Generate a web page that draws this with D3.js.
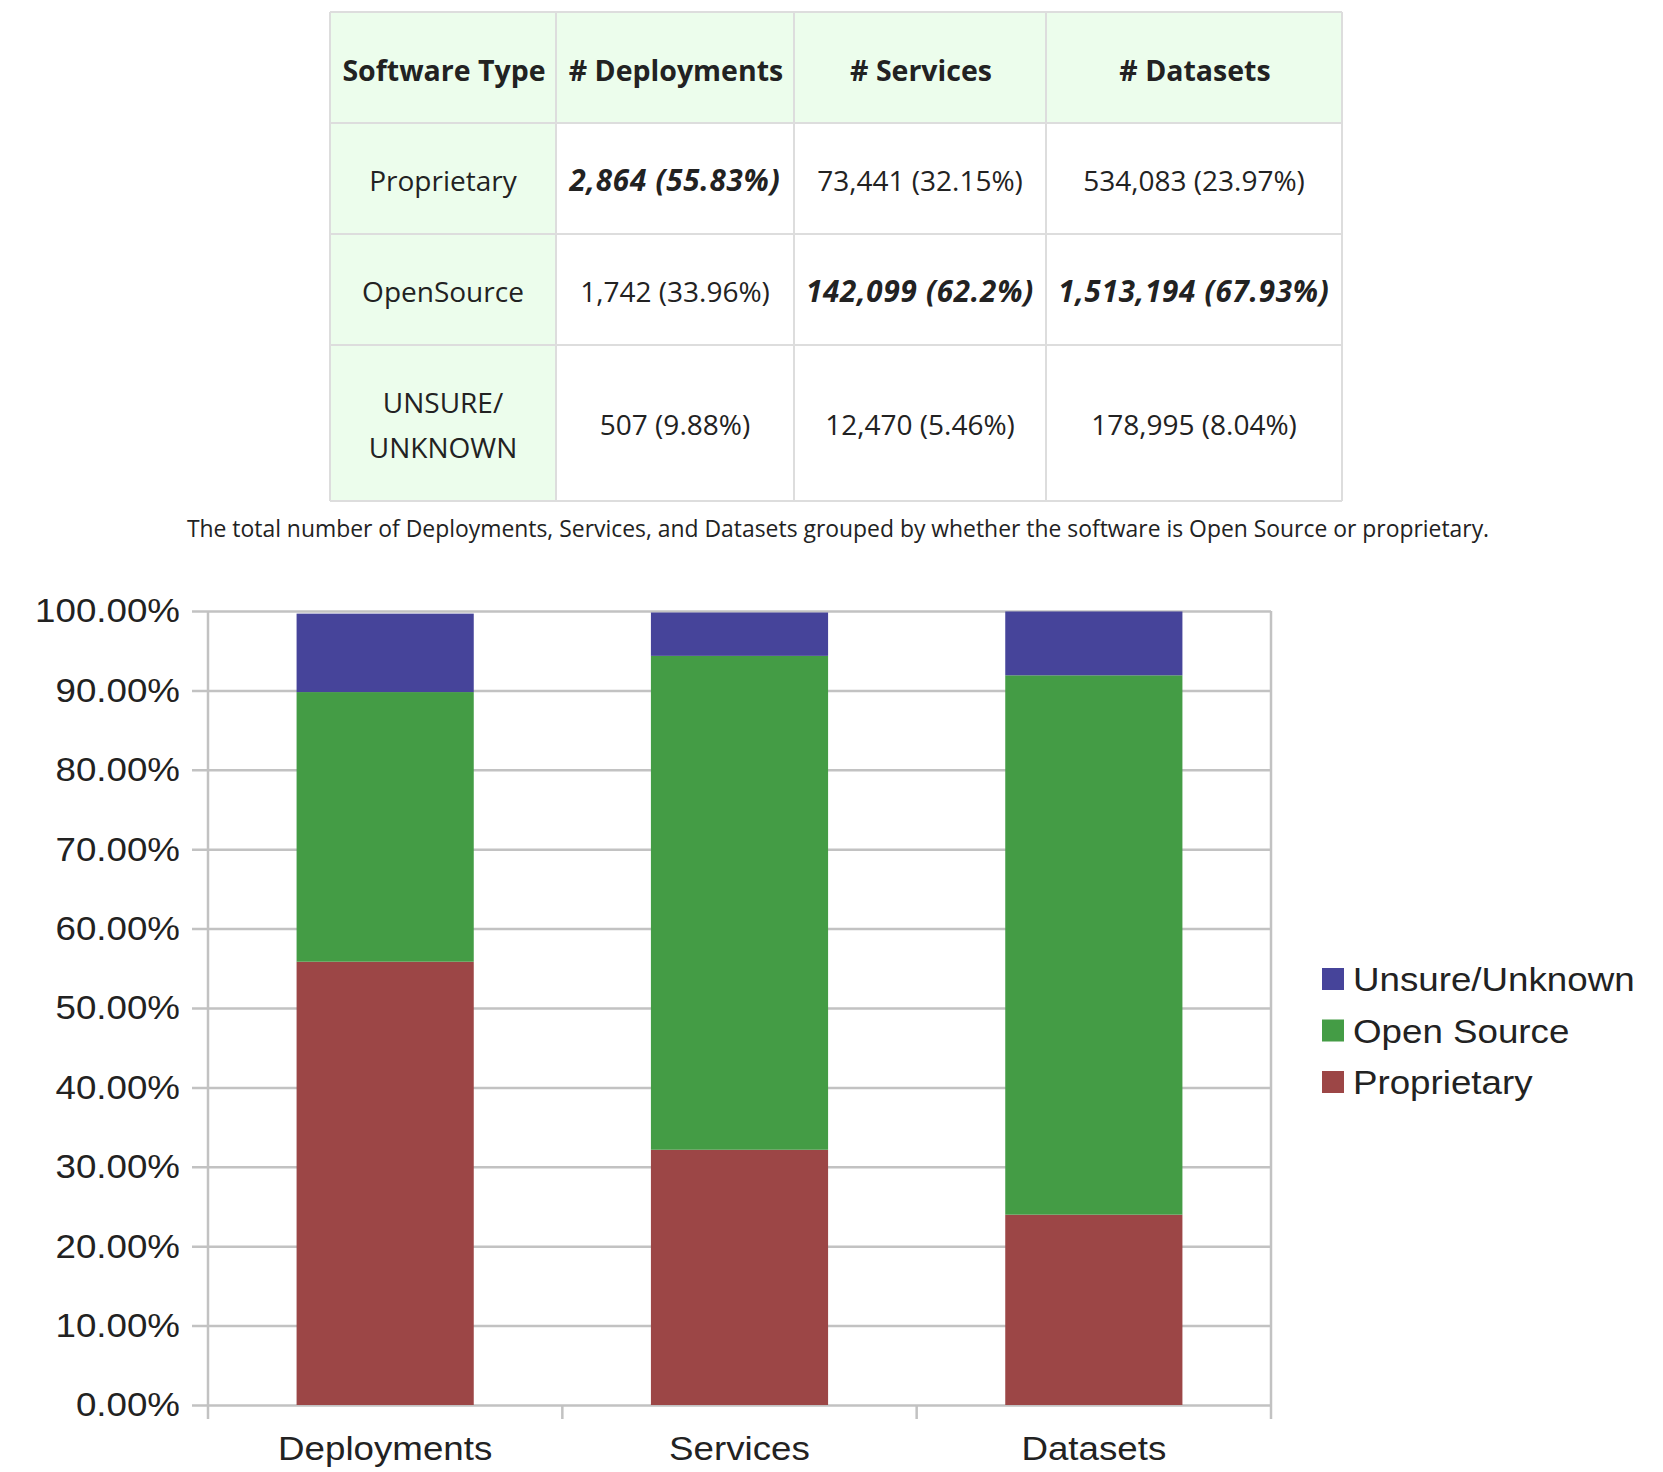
<!DOCTYPE html>
<html lang="en">
<head>
    <meta charset="UTF-8">
    <title>Software type: deployments, services and datasets</title>
    <script src="https://cdnjs.cloudflare.com/ajax/libs/d3/7.8.5/d3.min.js"></script>
    <style>
        body {
            margin: 0;
            padding: 0;
            background-color: #fff;
        }
        .cell-text {
            font-family: "Open Sans", "Noto Sans", sans-serif;
            fill: #222;
        }
        .chart-text {
            font-family: "Liberation Sans", Arial, sans-serif;
            fill: #222;
        }
    </style>
</head>
<body>
  <div id="page"></div>

  <script>
    // Données du tableau / du graphique
    const categories = ["Deployments", "Services", "Datasets"];
    const typeNames = ["Proprietary", "OpenSource", "UNSURE/\nUNKNOWN"];
    const legendNames = ["Proprietary", "Open Source", "Unsure/Unknown"];

    const proprietaryCounts = [2864, 73441, 534083];
    const proprietaryPct = [55.83, 32.15, 23.97];
    const openSourceCounts = [1742, 142099, 1513194];
    const openSourcePct = [33.96, 62.2, 67.93];
    const unsureCounts = [507, 12470, 178995];
    const unsurePct = [9.88, 5.46, 8.04];

    const yTicks = [0, 10, 20, 30, 40, 50, 60, 70, 80, 90, 100];

    const colors = ["#9c4646", "#449c45", "#46449a"];

    // Configuration
    const width = 1663;
    const height = 1472;
    const stretch = 1.08;   // le texte du graphique d'origine est un peu étiré en largeur

    const svg = d3.select("#page")
        .append("svg")
        .attr("width", width)
        .attr("height", height)
        .attr("viewBox", [0, 0, width, height]);

    // ---------- Tableau ----------
    const colEdges = [330, 556, 794, 1046, 1342];
    const rowEdges = [12, 123, 234, 345, 501];
    const headers = ["Software Type", "# Deployments", "# Services", "# Datasets"];

    const counts = [proprietaryCounts, openSourceCounts, unsureCounts];
    const pcts = [proprietaryPct, openSourcePct, unsurePct];

    const table = svg.append("g");

    // fonds verts : en-tête et première colonne
    table.append("rect")
        .attr("x", colEdges[0]).attr("y", rowEdges[0])
        .attr("width", colEdges[4] - colEdges[0]).attr("height", rowEdges[1] - rowEdges[0])
        .attr("fill", "#ecfdec");
    table.append("rect")
        .attr("x", colEdges[0]).attr("y", rowEdges[0])
        .attr("width", colEdges[1] - colEdges[0]).attr("height", rowEdges[4] - rowEdges[0])
        .attr("fill", "#ecfdec");

    // bordures
    table.selectAll(".hline")
        .data(rowEdges)
        .enter()
        .append("line")
        .attr("x1", colEdges[0]).attr("x2", colEdges[4])
        .attr("y1", d => d).attr("y2", d => d)
        .attr("stroke", "#dddddd").attr("stroke-width", 2);
    table.selectAll(".vline")
        .data(colEdges)
        .enter()
        .append("line")
        .attr("x1", d => d).attr("x2", d => d)
        .attr("y1", rowEdges[0]).attr("y2", rowEdges[4])
        .attr("stroke", "#dddddd").attr("stroke-width", 2);

    const colMid = i => (colEdges[i] + colEdges[i + 1]) / 2;
    const rowMid = i => (rowEdges[i] + rowEdges[i + 1]) / 2;

    // en-têtes
    table.selectAll(".head")
        .data(headers)
        .enter()
        .append("text")
        .attr("class", "cell-text")
        .attr("x", (d, i) => colMid(i) + 1)
        .attr("y", rowMid(0) + 3)
        .attr("dy", "0.36em")
        .attr("text-anchor", "middle")
        .attr("font-size", 28.5)
        .attr("font-weight", "bold")
        .text(d => d);

    // noms des types (première colonne)
    typeNames.forEach((name, r) => {
        const lines = name.split("\n");
        lines.forEach((line, k) => {
            table.append("text")
                .attr("class", "cell-text")
                .attr("x", colMid(0))
                .attr("y", rowMid(r + 1) + 2 + (k - (lines.length - 1) / 2) * 45)
                .attr("dy", "0.36em")
                .attr("text-anchor", "middle")
                .attr("font-size", 28)
                .text(line);
        });
    });

    // valeurs ; la plus grande part de chaque colonne en gras italique
    const fmt = d3.format(",");
    categories.forEach((cat, c) => {
        const maxRow = d3.maxIndex(pcts, p => p[c]);
        pcts.forEach((p, r) => {
            const strong = r === maxRow;
            table.append("text")
                .attr("class", "cell-text")
                .attr("x", colMid(c + 1))
                .attr("y", rowMid(r + 1) + 2)
                .attr("dy", "0.36em")
                .attr("text-anchor", "middle")
                .attr("font-size", strong ? 29.5 : 28)
                .attr("letter-spacing", strong ? 0.8 : 0)
                .attr("font-weight", strong ? "bold" : "normal")
                .attr("font-style", strong ? "italic" : "normal")
                .text(`${fmt(counts[r][c])} (${p[c]}%)`);
        });
    });

    // légende du tableau
    svg.append("text")
        .attr("class", "cell-text")
        .attr("x", 838)
        .attr("y", 537)
        .attr("text-anchor", "middle")
        .attr("font-size", 22.9)
        .text("The total number of Deployments, Services, and Datasets grouped by whether the software is Open Source or proprietary.");

    // ---------- Graphique empilé ----------
    const plot = { left: 208, right: 1271, top: 611, bottom: 1405 };

    const x = d3.scaleBand()
        .domain(categories)
        .range([plot.left, plot.right])
        .paddingInner(0.5)
        .paddingOuter(0.25);

    const y = d3.scaleLinear()
        .domain([0, 100])
        .range([plot.bottom, plot.top]);

    const rows = categories.map((cat, i) => ({
        category: cat,
        proprietary: proprietaryPct[i],
        openSource: openSourcePct[i],
        unsure: unsurePct[i]
    }));
    const keys = ["proprietary", "openSource", "unsure"];
    const series = d3.stack().keys(keys)(rows);

    const chart = svg.append("g");

    // grille + étiquettes de l'axe Y
    const yPad = 12;
    const yAxis = d3.axisLeft(y)
        .tickValues(yTicks)
        .tickSize(-(plot.right - plot.left + 16))
        .tickPadding(yPad)
        .tickFormat(d => d.toFixed(2) + "%");

    const yG = chart.append("g")
        .attr("transform", `translate(${plot.left - 16},0)`)
        .call(yAxis);
    yG.select(".domain").remove();
    yG.selectAll(".tick line")
        .attr("stroke", "#c2c2c2")
        .attr("stroke-width", 2.5);
    yG.selectAll(".tick text")
        .attr("class", "chart-text")
        .attr("font-size", 34)
        .attr("fill", "#222")
        .attr("x", -yPad / stretch)
        .attr("transform", `scale(${stretch},1)`);

    // axe X : graduations aux limites des catégories
    const xEdges = categories.map(c => x(c) - x.step() * x.paddingInner() / 2);
    xEdges.push(plot.right);
    chart.selectAll(".xtick")
        .data(xEdges)
        .enter()
        .append("line")
        .attr("x1", d => d).attr("x2", d => d)
        .attr("y1", (d, i) => (i === 0 || i === xEdges.length - 1) ? plot.top : plot.bottom)
        .attr("y2", plot.bottom + 14)
        .attr("stroke", "#c2c2c2")
        .attr("stroke-width", 2.5);

    // barres
    chart.selectAll(".serie")
        .data(series)
        .enter()
        .append("g")
        .attr("fill", (d, i) => colors[i])
        .selectAll("rect")
        .data(d => d)
        .enter()
        .append("rect")
        .attr("x", d => x(d.data.category))
        .attr("y", d => y(d[1]))
        .attr("width", x.bandwidth())
        .attr("height", d => y(d[0]) - y(d[1]));

    // étiquettes des catégories
    chart.selectAll(".xlabel")
        .data(categories)
        .enter()
        .append("text")
        .attr("class", "chart-text")
        .attr("transform", d => `translate(${x(d) + x.bandwidth() / 2},1460) scale(${stretch},1)`)
        .attr("text-anchor", "middle")
        .attr("font-size", 34)
        .text(d => d);

    // légende (ordre inversé : Unsure en haut)
    const legendOrder = [2, 1, 0];
    const legend = chart.selectAll(".legend")
        .data(legendOrder)
        .enter()
        .append("g")
        .attr("transform", (d, i) => `translate(1322,${979 + i * 51.5})`);
    legend.append("rect")
        .attr("x", 0).attr("y", -11)
        .attr("width", 22).attr("height", 22)
        .attr("fill", d => colors[d]);
    legend.append("text")
        .attr("class", "chart-text")
        .attr("transform", `translate(31,0) scale(${stretch},1)`)
        .attr("dy", "0.36em")
        .attr("font-size", 34)
        .text(d => legendNames[d]);
  </script>
</body>
</html>
